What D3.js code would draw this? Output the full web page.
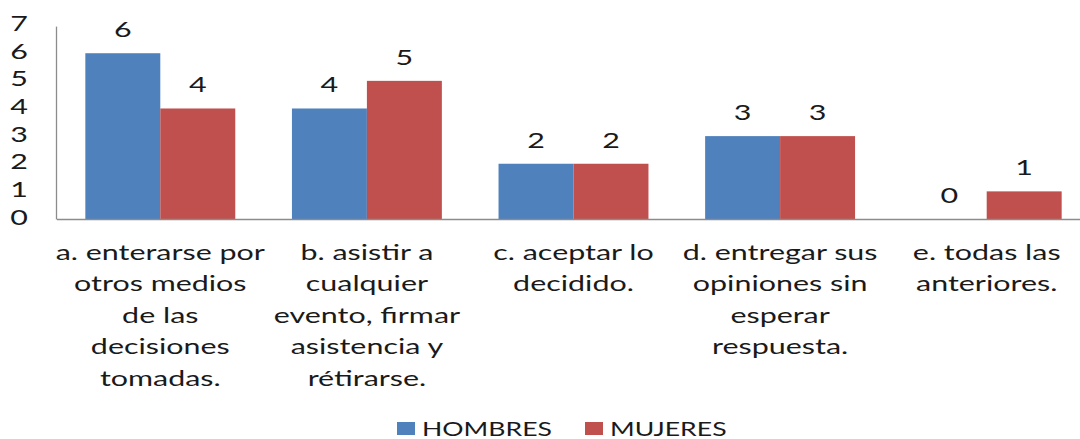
<!DOCTYPE html>
<html>
<head>
<meta charset="utf-8">
<script src="https://cdn.jsdelivr.net/npm/d3@7"></script>
<style>
  html, body { margin: 0; padding: 0; background: #fff; }
  svg text { font-family: Lato, "Noto Sans", sans-serif; fill: #1a1a1a; }
</style>
</head>
<body>
<script>
// datos
const categorias = [
  ["a. enterarse por", "otros medios", "de las", "decisiones", "tomadas."],
  ["b. asistir a", "cualquier", "evento, firmar", "asistencia y", "rétirarse."],
  ["c. aceptar lo", "decidido."],
  ["d. entregar sus", "opiniones sin", "esperar", "respuesta."],
  ["e. todas las", "anteriores."]
];
const hombres = [6, 4, 2, 3, 0];
const mujeres = [4, 5, 2, 3, 1];
const series = ["HOMBRES", "MUJERES"];
const colores = ["#4F81BD", "#C0504D"];
const yTicks = [0, 1, 2, 3, 4, 5, 6, 7];

const W = 1080, H = 439;
const sx = 1.45;   // el original esta estirado a lo ancho
const fs = 21;

const svg = d3.select("body").append("svg")
  .attr("width", W).attr("height", H);

const mLeft = 57, mRight = 1090, mTop = 25.6, mBottom = 219;

const x0 = d3.scaleBand().domain(d3.range(categorias.length)).range([mLeft, mRight]).padding(0);
const x1 = d3.scaleBand().domain(series).range([0, x0.bandwidth()]).paddingInner(0).paddingOuter(0.378);
const y = d3.scaleLinear().domain([0, 7]).range([mBottom, mTop]);

const datos = categorias.map((c, i) => ({ i, vals: [hombres[i], mujeres[i]] }));

// barras
const g = svg.append("g");
const grupos = g.selectAll("g.cat").data(datos).join("g")
  .attr("class", "cat")
  .attr("transform", d => "translate(" + x0(d.i) + ",0)");

grupos.selectAll("rect").data(d => d.vals.map((v, k) => ({ k, v }))).join("rect")
  .attr("x", d => x1(series[d.k]))
  .attr("width", x1.bandwidth())
  .attr("y", d => y(d.v))
  .attr("height", d => y(0) - y(d.v))
  .attr("fill", d => colores[d.k]);

// etiquetas de valor
grupos.selectAll("text.val").data(d => d.vals.map((v, k) => ({ k, v }))).join("text")
  .attr("class", "val")
  .attr("text-anchor", "middle")
  .attr("font-size", fs)
  .attr("transform", d => "translate(" + (x1(series[d.k]) + x1.bandwidth() / 2) + "," + (y(d.v) - 16) + ") scale(" + sx + ",1)")
  .text(d => d.v);

// ejes
svg.append("line")
  .attr("x1", mLeft).attr("x2", W).attr("y1", mBottom + 0.5).attr("y2", mBottom + 0.5)
  .attr("stroke", "#8c8c8c").attr("stroke-width", 1.3);
svg.append("line")
  .attr("x1", mLeft - 0.5).attr("x2", mLeft - 0.5).attr("y1", y(7) + 1).attr("y2", mBottom + 0.5)
  .attr("stroke", "#8c8c8c").attr("stroke-width", 1.3);

svg.append("g").selectAll("text").data(yTicks).join("text")
  .attr("text-anchor", "end")
  .attr("font-size", fs)
  .attr("transform", d => "translate(28," + (y(d) + 5.5) + ") scale(" + sx + ",1)")
  .text(d => d);

// etiquetas de categoria
const lab = svg.append("g").selectAll("text").data(categorias).join("text")
  .attr("text-anchor", "middle")
  .attr("font-size", fs)
  .attr("transform", (d, i) => "translate(" + (x0(i) + x0.bandwidth() / 2) + ",260) scale(" + sx + ",1)");
lab.selectAll("tspan").data(d => d).join("tspan")
  .attr("x", 0)
  .attr("dy", (d, j) => j === 0 ? 0 : 31.5)
  .text(d => d);

// leyenda
const leyX = [397, 585];
const ley = svg.append("g").selectAll("g").data(series).join("g")
  .attr("transform", (d, i) => "translate(" + leyX[i] + ",422)");
ley.append("rect").attr("width", 18).attr("height", 13).attr("fill", (d, i) => colores[i]);
ley.append("text")
  .attr("font-size", 19)
  .attr("transform", "translate(25,14) scale(1.4,1)")
  .text(d => d);
</script>
</body>
</html>
